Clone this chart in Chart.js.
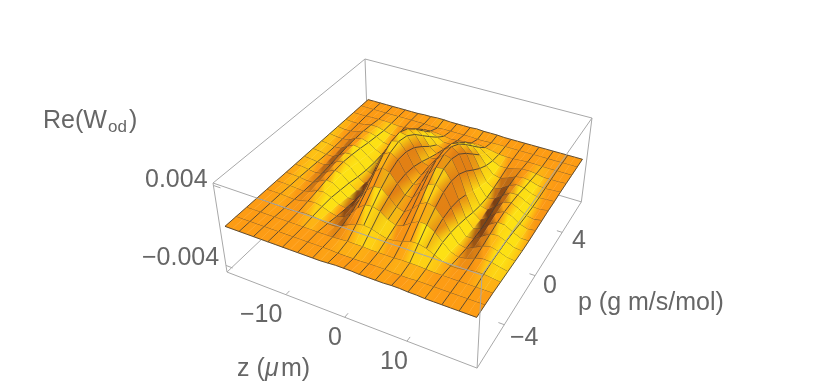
<!DOCTYPE html>
<html>
<head>
<meta charset="utf-8">
<style>html,body{margin:0;padding:0;background:#fff}canvas{display:block}</style>
<script src="https://cdn.jsdelivr.net/npm/chart.js@4"></script>
</head>
<body>
<canvas id="surface" width="830" height="392"></canvas>
<script>
//values
const zTicks = [-10, 0, 10]
const pTicks = [-4, 0, 4]
const hTicks = [-0.004, 0.004]
const zValues = [-20,-18.75,-17.5,-16.25,-15,-13.75,-12.5,-11.25,-10,-8.75,-7.5,-6.25,-5,-3.75,-2.5,-1.25,0,1.25,2.5,3.75,5,6.25,7.5,8.75,10,11.25,12.5,13.75,15,16.25,17.5,18.75,20]
const pValues = [-7,-6.125,-5.25,-4.375,-3.5,-2.625,-1.75,-0.875,0,0.875,1.75,2.625,3.5,4.375,5.25,6.125,7]

//Re(W) at each p (rows) and z (columns), in units of 0.00005
const heightRows = [
    [0,0,0,0,0,0,0,0,0,0,0,0,0,0,1,2,2,2,1,1,1,1,2,2,1,1,0,0,0,0,0,0,0],
    [0,0,0,0,0,0,0,0,0,0,0,0,0,0,-1,-1,-1,-1,0,0,0,-1,-1,-1,0,0,0,0,0,0,0,0,0],
    [0,0,0,0,0,0,0,0,0,0,0,0,0,1,2,2,2,1,1,1,1,2,2,2,1,0,0,0,0,0,0,0,0],
    [0,0,0,0,-1,-1,1,3,2,0,-3,-3,2,10,16,19,17,12,8,9,13,18,19,15,8,1,-3,-3,0,3,3,1,-1],
    [0,0,0,-1,-2,0,4,6,3,-3,-7,-4,8,24,35,37,32,21,15,19,29,37,36,27,12,-1,-7,-4,2,6,5,1,-2],
    [0,0,-1,-2,-3,1,7,9,3,-6,-10,-1,18,40,53,54,42,27,22,32,47,55,50,34,11,-6,-10,-3,5,9,5,-1,-3],
    [0,0,-1,-3,-3,4,11,10,0,-11,-12,4,32,59,72,67,50,32,31,48,66,72,61,36,7,-11,-11,-1,9,11,5,-2,-4],
    [0,0,-2,-4,-2,7,14,10,-3,-15,-11,14,48,76,85,75,52,35,41,63,82,84,65,33,1,-15,-11,3,13,12,3,-4,-4],
    [0,-1,-3,-5,0,10,15,7,-8,-17,-6,25,61,86,90,74,49,36,50,75,90,86,61,25,-6,-17,-8,7,15,10,0,-5,-3],
    [0,-1,-4,-4,3,12,13,3,-11,-16,1,34,68,88,85,66,42,37,55,78,89,79,50,14,-11,-15,-4,10,14,7,-2,-5,-2],
    [0,-1,-4,-3,5,12,10,-1,-12,-12,8,39,67,79,72,52,33,35,55,74,78,64,35,5,-13,-11,0,11,12,4,-3,-4,-1],
    [0,-2,-3,-1,6,10,6,-4,-11,-7,13,38,58,63,54,36,25,32,49,61,61,46,21,-2,-11,-7,3,10,8,1,-3,-2,-1],
    [0,-2,-2,1,6,7,3,-5,-8,-2,14,32,44,44,36,23,18,26,38,45,42,28,10,-4,-8,-3,4,7,5,0,-2,-1,0],
    [0,-1,-1,1,4,4,0,-4,-5,1,12,22,27,26,19,12,12,18,25,27,23,14,3,-4,-4,-1,3,4,2,-1,-1,-1,0],
    [0,0,0,1,1,1,0,-1,-1,1,4,7,8,7,5,3,4,6,7,8,6,3,0,-1,-1,0,1,1,0,0,0,0,0],
    [0,0,0,0,0,0,0,0,0,0,0,-1,-1,0,0,0,0,0,-1,-1,0,0,0,0,0,0,0,0,0,0,0,0,0],
    [0,0,0,0,0,0,0,0,0,1,1,2,2,1,1,1,1,2,1,1,1,0,0,0,0,0,0,0,0,0,0,0,0]
]

//heights in units of 0.0001
const heights = heightRows.map(row => row.map(v => v / 2))

//camera: top face of the box as a homography, verticals run to a vanishing point
function project(u, v, w) {
    const t = (1 - w) * 0.0733
    const X = 213 + 211.64 * u + 240.59 * v + 418 * t
    const Y = 183 + 59.3 * u - 109.68 * v + 1487 * t
    const W = 1 - 0.119 * u + 0.2427 * v + t
    return {x: X / W, y: Y / W}
}
const uOf = z => (z + 20.6) / 41.2
const vOf = p => (p + 7.14) / 14.28
const wOf = h => 0.527 + h * 10000 / 89.4

const lineSet = (pts, color, width) => ({type: 'scatter', data: pts, showLine: true, pointRadius: 0, borderColor: color, borderWidth: width, fill: false})

//box
const boxColor = '#a8a8a8'
const edge = (a, b) => lineSet([project(...a), project(...b)], boxColor, 1)
const backEdges = [
    [[0,1,0],[0,1,1]], [[0,1,1],[0,0,1]], [[0,1,1],[1,1,1]],
    [[0,0,0],[0,1,0]], [[0,1,0],[1,1,0]]
].map(e => edge(...e))
const frontEdges = [
    [[0,0,1],[1,0,1]], [[1,0,1],[1,1,1]],
    [[0,0,0],[0,0,1]], [[1,0,0],[1,0,1]], [[1,1,0],[1,1,1]],
    [[0,0,0],[1,0,0]], [[1,0,0],[1,1,0]]
].map(e => edge(...e))

//ticks
const tickSets = []
zTicks.forEach(z => tickSets.push(edge([uOf(z),0,0],[uOf(z),0.022,0])))
pTicks.forEach(p => tickSets.push(edge([1,vOf(p),0],[0.978,vOf(p),0])))
hTicks.forEach(h => tickSets.push(edge([0,0,wOf(h)],[0.03,0,wOf(h)])))

const rows = pValues.length, cols = zValues.length
const surfaceU = i => uOf(zValues[i])
const surfaceV = j => vOf(pValues[j])
const at = (i, j) => project(surfaceU(i), surfaceV(j), wOf(heights[j][i] * 1e-4))

const clamp01 = x => Math.max(0, Math.min(1, x))

//vertex colour from the local slope
function vertexColor(i, j) {
    const i0 = Math.max(i - 1, 0), i1 = Math.min(i + 1, cols - 1)
    const j0 = Math.max(j - 1, 0), j1 = Math.min(j + 1, rows - 1)
    const h = heights[j][i]
    const k = 0.4 / 89.4
    const nx = -k * (heights[j][i1] - heights[j][i0]) / (surfaceU(i1) - surfaceU(i0))
    const ny = -k * (heights[j1][i] - heights[j0][i]) / (surfaceV(j1) - surfaceV(j0))
    const len = Math.hypot(nx, ny, 1)
    const s = (0.85 * nx - 0.3 * ny) / len
    const dark = clamp01((-s - 0.22) / 0.3) * clamp01((14 - h) / 12)
    const yellow = clamp01(s / 0.2)
    const deep = clamp01((s - 0.4) / 0.2) * clamp01((h - 6) / 10)
    let r = 253, g = 156
    g += (225 - 156) * yellow
    r += (226 - r) * deep
    g += (128 - g) * deep
    if (s < 0) { r += 25 * s; g += 40 * s }
    r += (120 - r) * dark
    g += (62 - g) * dark
    return [r, g, 20]
}
const css = c => `rgb(${Math.round(c[0])},${Math.round(c[1])},${Math.round(c[2])})`
const mix = (a, b) => a.map((x, n) => (x + b[n]) / 2)

//surface, back to front
const ctx2d = document.getElementById('surface').getContext('2d')
const meshColor = 'rgba(55,50,45,0.8)'
const meshWidth = 1
const surfaceSets = []
for (let j = rows - 2; j >= 0; j--) {
    for (let i = 0; i < cols - 1; i++) {
        const a = at(i, j), b = at(i + 1, j), c = at(i + 1, j + 1), d = at(i, j + 1)
        const grad = ctx2d.createLinearGradient(a.x, a.y, b.x, b.y)
        grad.addColorStop(0, css(mix(vertexColor(i, j), vertexColor(i, j + 1))))
        grad.addColorStop(1, css(mix(vertexColor(i + 1, j), vertexColor(i + 1, j + 1))))
        surfaceSets.push({type: 'scatter', data: [a, b, c, d, a], showLine: true, pointRadius: 0, borderColor: grad, borderWidth: 0.4, backgroundColor: grad, fill: 'shape'})
        //mesh lines are closer together up on the ridges
        const meshed = i % 2 == 0 || (heights[j][i] > 7 && heights[j + 1][i] > 7)
        surfaceSets.push(lineSet(meshed ? [d, a, b] : [a, b], meshColor, meshWidth))
        if (j == rows - 2) surfaceSets.push(lineSet([d, c], meshColor, meshWidth))
        if (i == cols - 2) surfaceSets.push(lineSet([b, c], meshColor, meshWidth))
    }
}

//text
const labelFont = '25px "Liberation Sans"'
const textColor = '#666666'
const texts = [
    ['0.004', 145, 187], ['\u22120.004', 142, 265],
    ['\u221210', 240, 322], ['0', 328, 345], ['10', 380, 369],
    ['4', 572, 248], ['0', 543, 293], ['\u22124', 510, 345],
    ['p (g m/s/mol)', 578, 310], ['Re(W', 43, 128], [')', 129, 128]
]
const textPlugin = {
    id: 'labels',
    afterDraw(chart) {
        const ctx = chart.ctx
        ctx.save()
        ctx.fillStyle = textColor
        ctx.font = labelFont
        ctx.textBaseline = 'alphabetic'
        texts.forEach(t => ctx.fillText(t[0], t[1], t[2]))
        ctx.fillText('z (', 237, 376)
        ctx.fillText('m)', 281, 376)
        ctx.font = 'italic ' + labelFont
        ctx.fillText('\u03bc', 265, 376)
        ctx.font = '17px "Liberation Sans"'
        ctx.fillText('od', 108, 132)
        ctx.restore()
    }
}

//datasets draw last-to-first
const datasets = [...backEdges, ...surfaceSets, ...frontEdges, ...tickSets].reverse()

new Chart(document.getElementById('surface'), {
    type: 'scatter',
    data: {datasets: datasets},
    plugins: [textPlugin],
    options: {
        responsive: false,
        animation: false,
        layout: {padding: 0},
        plugins: {legend: {display: false}, tooltip: {enabled: false}},
        scales: {
            x: {type: 'linear', min: 0, max: 830, display: false},
            y: {type: 'linear', min: 0, max: 392, reverse: true, display: false}
        }
    }
})
</script>
</body>
</html>
